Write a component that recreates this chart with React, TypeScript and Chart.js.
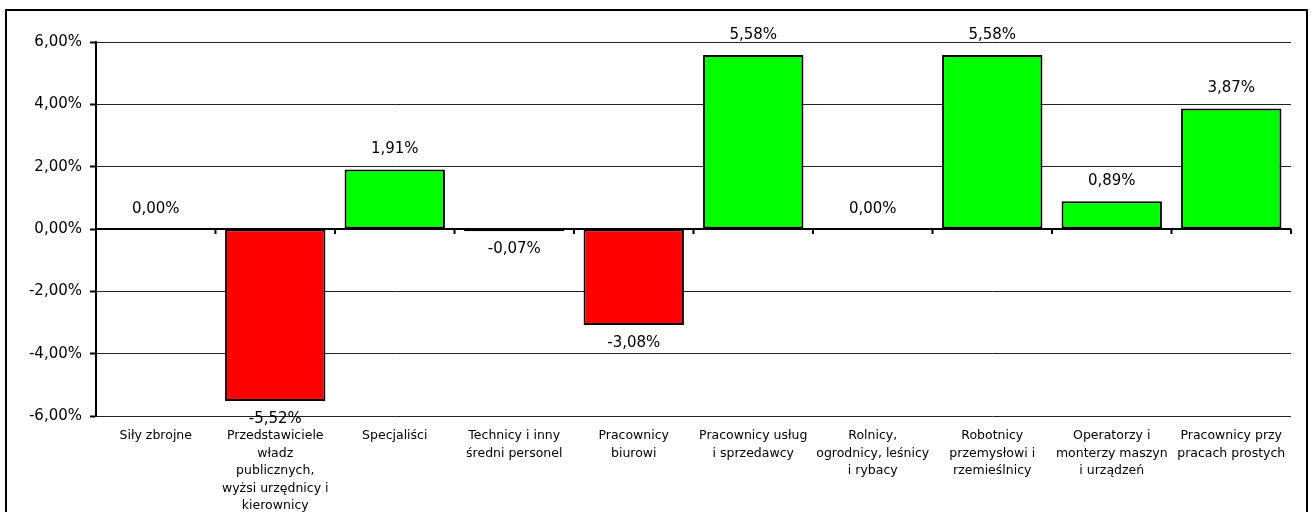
import React, { useEffect, useRef } from "react";
import { Chart, registerables } from "chart.js";

Chart.register(...registerables);

const categories: string[][] = [
  ["Siły zbrojne"],
  ["Przedstawiciele", "władz", "publicznych,", "wyżsi urzędnicy i", "kierownicy"],
  ["Specjaliści"],
  ["Technicy i inny", "średni personel"],
  ["Pracownicy", "biurowi"],
  ["Pracownicy usług", "i sprzedawcy"],
  ["Rolnicy,", "ogrodnicy, leśnicy", "i rybacy"],
  ["Robotnicy", "przemysłowi i", "rzemieślnicy"],
  ["Operatorzy i", "monterzy maszyn", "i urządzeń"],
  ["Pracownicy przy", "pracach prostych"],
];

const values: number[] = [0, -5.52, 1.91, -0.07, -3.08, 5.58, 0, 5.58, 0.89, 3.87];

const yMin = -6;
const yMax = 6;
const yStep = 2;

const FONT = "'DejaVu Sans', Verdana, sans-serif";

const fmt = (v: number) => v.toFixed(2).replace(".", ",") + "%";

const labelPlugin = {
  id: "valueLabels",
  afterDatasetsDraw(chart: any) {
    const ctx = chart.ctx;
    const meta = chart.getDatasetMeta(0);
    ctx.save();
    ctx.font = `15px ${FONT}`;
    ctx.fillStyle = "#000";
    ctx.textAlign = "center";
    ctx.textBaseline = "middle";
    meta.data.forEach((el: any, i: number) => {
      const v = values[i];
      const y = v >= 0 ? el.y - 20 : el.y + 18;
      ctx.fillText(fmt(v), el.x, y);
    });
    ctx.restore();
  },
};

const zeroTicksPlugin = {
  id: "zeroTicks",
  afterDatasetsDraw(chart: any) {
    const ctx = chart.ctx;
    const xs = chart.scales.x;
    const ys = chart.scales.y;
    const zy = ys.getPixelForValue(0);
    const n = categories.length;
    const w = (xs.right - xs.left) / n;
    ctx.save();
    ctx.strokeStyle = "#000";
    ctx.lineWidth = 2;
    ctx.beginPath();
    ctx.moveTo(xs.left, zy);
    ctx.lineTo(xs.right, zy);
    for (let i = 0; i <= n; i++) {
      const x = xs.left + w * i;
      ctx.moveTo(x, zy);
      ctx.lineTo(x, zy + 5);
    }
    ctx.stroke();
    ctx.restore();
  },
};

export default function App() {
  const ref = useRef<HTMLCanvasElement | null>(null);

  useEffect(() => {
    if (!ref.current) return;
    const chart = new Chart(ref.current, {
      type: "bar",
      data: {
        labels: categories,
        datasets: [
          {
            data: values,
            backgroundColor: values.map((v) => (v >= 0 ? "#00FF00" : "#FF0000")),
            borderColor: "#000",
            borderWidth: 2,
            borderSkipped: false,
            barPercentage: 0.84,
            categoryPercentage: 1,
          },
        ],
      },
      plugins: [labelPlugin, zeroTicksPlugin],
      options: {
        animation: false,
        responsive: false,
        maintainAspectRatio: false,
        layout: { padding: { left: 0, right: 23, top: 42, bottom: 0 } },
        plugins: {
          legend: { display: false },
          tooltip: { enabled: false },
        },
        scales: {
          x: {
            grid: { display: false, drawTicks: false },
            border: { display: false },
            ticks: {
              autoSkip: false,
              maxRotation: 0,
              minRotation: 0,
              padding: 11,
              color: "#000",
              font: { family: FONT, size: 12.5, lineHeight: 1.4 },
            },
            afterFit: (s: any) => {
              s.height = 96;
            },
          },
          y: {
            min: yMin,
            max: yMax,
            ticks: {
              stepSize: yStep,
              padding: 8,
              color: "#000",
              font: { family: FONT, size: 15 },
              callback: (v: any) => fmt(Number(v)),
            },
            grid: {
              color: (c: any) => (c.tick && c.tick.value === 0 ? "#000" : "#222"),
              lineWidth: 1,
              tickLength: 6,
              tickColor: "#000",
              tickWidth: 2,
            },
            border: { display: true, color: "#000", width: 2 },
            afterFit: (s: any) => {
              s.width = 96;
            },
          },
        },
      },
    });
    return () => chart.destroy();
  }, []);

  return (
    <div style={{ position: "fixed", left: 0, top: 0, width: 1314, height: 512, background: "#fff", overflow: "hidden" }}>
      <canvas ref={ref} width={1314} height={512} style={{ position: "absolute", left: 0, top: 0 }} />
      <div
        style={{
          position: "absolute",
          left: 5,
          top: 9,
          width: 1299,
          height: 600,
          border: "2px solid #000",
          pointerEvents: "none",
        }}
      />
    </div>
  );
}
